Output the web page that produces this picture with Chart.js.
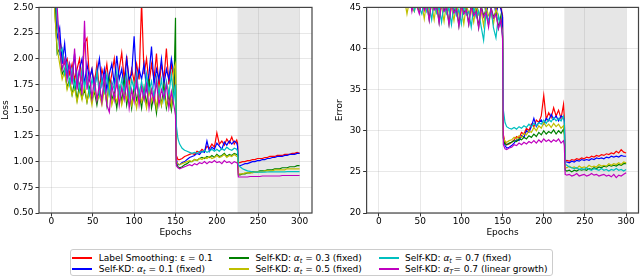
<!DOCTYPE html>
<html>
<head>
<meta charset="utf-8">
<script src="https://cdn.jsdelivr.net/npm/chart.js@4.4.1/dist/chart.umd.min.js"></script>
<style>
  html, body { margin:0; padding:0; background:#fff; }
  body { width:640px; height:276px; position:relative; overflow:hidden; font-family:"DejaVu Sans", sans-serif; color:#000; }
  canvas { position:absolute; top:0; }
  #cLoss { left:0; }
  #cErr { left:320px; }
  #legend { position:absolute; left:70px; top:249px; width:483px; height:27px; box-sizing:border-box; border:1px solid #cccccc; border-radius:3px; background:#fff; font-size:9px; }
  .item { position:absolute; height:12px; white-space:nowrap; }
  .sw { position:absolute; left:0; top:5px; width:20px; height:2px; }
  .tx { position:absolute; left:26.5px; top:0; line-height:12px; }
  .tx sub { font-size:6.5px; vertical-align:-1.5px; line-height:0; }
</style>
</head>
<body>
<canvas id="cLoss" width="320" height="240"></canvas>
<canvas id="cErr" width="320" height="240"></canvas>
<div id="legend"></div>
<script>
// ---------- data ----------
const EPOCHS = [
  1,4,7,10,13,16,19,22,25,28,31,34,37,40,43,46,49,52,55,58,61,64,67,70,73,76,79,82,85,88,91,94,97,100,103,106,109,112,115,118,121,124,127,130,133,136,139,142,145,148,150,
  151,153,155,158,161,164,167,170,173,176,179,182,185,188,191,194,197,200,203,206,209,212,215,218,221,224,225,
  226,228,231,234,237,240,243,246,249,252,255,258,261,264,267,270,273,276,279,282,285,288,291,294,297,300
];
const X_TICKS = [0, 50, 100, 150, 200, 250, 300];
const LOSS_TICKS = [0.5, 0.75, 1.0, 1.25, 1.5, 1.75, 2.0, 2.25, 2.5];
const ERROR_TICKS = [20, 25, 30, 35, 40, 45];
const SHADE_RANGE = [225, 300];

const SERIES_NAMES = [
  'Label Smoothing: ε = 0.1',
  'Self-KD: αt = 0.1 (fixed)',
  'Self-KD: αt = 0.3 (fixed)',
  'Self-KD: αt = 0.5 (fixed)',
  'Self-KD: αt = 0.7 (fixed)',
  'Self-KD: αT= 0.7 (linear growth)'
];
const LEGEND_LABELS = [
  'Label Smoothing: ε = 0.1',
  'Self-KD: <i>α</i><sub><i>t</i></sub> = 0.1 (fixed)',
  'Self-KD: <i>α</i><sub><i>t</i></sub> = 0.3 (fixed)',
  'Self-KD: <i>α</i><sub><i>t</i></sub> = 0.5 (fixed)',
  'Self-KD: <i>α</i><sub><i>t</i></sub> = 0.7 (fixed)',
  'Self-KD: <i>α</i><sub><i>T</i></sub>= 0.7 (linear growth)'
];
const SERIES_COLORS = ['#ff0000', '#0000ff', '#008000', '#bfbf00', '#00bfbf', '#bf00bf'];

// Loss
const lossLS = [
  3.6,2.9,2.35,2.2,2.05,1.95,2.0,1.85,1.95,1.8,1.9,2.0,1.78,2.15,2.2,1.8,1.9,1.75,1.95,1.7,1.9,1.8,1.95,1.72,1.85,2.0,1.75,1.9,2.06,1.8,2.03,1.75,1.9,1.78,1.95,1.8,2.55,1.85,2.0,1.75,1.95,1.8,2.05,1.72,1.95,1.8,2.1,1.75,1.95,1.8,1.7,
  1.06,1.02,1.02,1.03,1.05,1.06,1.07,1.08,1.07,1.1,1.09,1.12,1.1,1.15,1.13,1.17,1.14,1.28,1.17,1.2,1.16,1.22,1.18,1.24,1.17,1.21,1.18,
  0.99,0.99,1.0,1.0,1.01,1.01,1.02,1.02,1.03,1.03,1.03,1.04,1.04,1.05,1.05,1.05,1.06,1.06,1.06,1.07,1.07,1.07,1.08,1.08,1.09,1.08
];
const lossKD01 = [
  3.4,2.6,2.2,2.3,1.95,2.15,1.85,1.95,1.8,2.05,1.75,1.9,2.0,1.75,1.95,1.8,1.9,1.7,1.85,2.0,1.75,1.9,1.7,1.85,1.95,1.75,2.03,1.8,1.9,1.72,2.0,1.8,1.85,2.22,1.75,1.9,1.8,1.95,1.7,1.85,2.12,1.75,1.9,1.8,2.0,1.75,1.9,1.8,2.0,1.85,1.75,
  1.02,0.97,0.97,0.99,1.0,1.02,1.04,1.05,1.06,1.08,1.07,1.1,1.09,1.2,1.1,1.14,1.12,1.18,1.15,1.12,1.19,1.16,1.2,1.17,1.2,1.18,1.15,
  0.96,0.96,0.97,0.98,0.98,0.99,1.0,1.0,1.01,1.01,1.02,1.02,1.03,1.03,1.04,1.04,1.05,1.05,1.05,1.06,1.06,1.07,1.07,1.07,1.08,1.08
];
const lossKD03 = [
  3.3,2.5,2.05,2.1,1.85,1.9,1.72,1.8,1.65,1.78,1.6,1.75,1.62,1.7,1.58,1.72,1.6,1.68,1.55,1.7,1.6,1.75,1.55,1.8,1.6,1.68,1.52,1.72,1.58,1.8,1.55,1.7,1.52,1.75,1.6,1.68,1.52,1.72,1.55,1.8,1.52,1.65,1.47,1.7,1.55,1.75,1.52,1.65,1.5,1.7,2.4,
  0.98,0.95,0.94,0.95,0.97,0.98,1.0,1.0,1.02,1.01,1.03,1.04,1.03,1.05,1.04,1.06,1.04,1.07,1.05,1.06,1.08,1.05,1.07,1.06,1.08,1.07,1.06,
  0.87,0.87,0.88,0.88,0.89,0.89,0.9,0.9,0.9,0.91,0.91,0.91,0.92,0.92,0.92,0.93,0.93,0.93,0.94,0.94,0.94,0.95,0.95,0.95,0.96,0.96
];
const lossKD05 = [
  3.2,2.45,2.1,1.95,1.8,1.88,1.7,1.78,1.65,1.72,1.58,1.7,1.6,1.75,1.58,1.68,1.55,1.72,1.6,1.65,1.55,1.7,1.58,1.75,1.55,1.65,1.58,1.7,1.55,1.68,1.6,1.72,1.55,1.65,1.52,1.7,1.58,1.65,1.52,1.7,1.58,1.68,1.52,1.72,1.55,1.65,1.55,1.7,1.55,1.9,1.95,
  1.0,0.98,0.97,0.98,0.99,1.0,1.01,1.0,1.02,1.01,1.03,1.02,1.04,1.03,1.05,1.03,1.04,1.06,1.04,1.05,1.07,1.04,1.06,1.05,1.07,1.05,1.05,
  0.88,0.88,0.88,0.89,0.89,0.89,0.89,0.9,0.9,0.9,0.9,0.91,0.91,0.91,0.91,0.92,0.92,0.92,0.92,0.92,0.93,0.93,0.93,0.93,0.93,0.93
];
const lossKD07 = [
  3.5,2.7,2.4,2.05,2.1,1.85,1.95,1.75,1.9,1.72,1.85,1.7,1.9,1.72,1.85,1.65,1.8,1.7,1.88,1.65,1.8,1.68,1.85,1.65,1.78,1.7,1.88,1.65,1.8,1.68,1.85,1.62,1.8,1.7,1.85,1.65,1.78,1.62,1.85,1.68,1.78,1.62,1.82,1.65,1.8,1.6,1.78,1.65,1.85,1.6,1.75,
  1.35,1.22,1.17,1.13,1.11,1.1,1.09,1.08,1.09,1.08,1.1,1.09,1.11,1.09,1.1,1.12,1.1,1.12,1.1,1.13,1.11,1.14,1.12,1.11,1.13,1.12,1.1,
  0.97,0.95,0.93,0.92,0.91,0.905,0.9,0.898,0.897,0.897,0.898,0.898,0.899,0.9,0.9,0.9,0.901,0.901,0.9,0.901,0.902,0.902,0.902,0.903,0.903,0.903
];
const lossKD07lin = [
  3.6,2.8,2.5,2.1,1.9,2.0,1.8,1.95,1.75,2.1,1.7,1.9,1.65,2.37,1.7,1.85,1.62,1.8,1.6,1.75,1.58,1.85,1.55,1.48,1.75,1.6,1.8,1.55,1.72,1.6,1.78,1.52,1.7,1.58,1.8,1.55,1.72,1.6,1.75,1.52,1.7,1.58,1.78,1.55,1.7,1.62,1.75,1.52,1.68,1.55,1.45,
  0.96,0.94,0.93,0.94,0.95,0.96,0.97,0.96,0.98,0.97,0.99,0.98,1.0,0.98,1.0,0.99,1.01,0.99,1.0,0.98,1.01,0.99,1.0,0.98,1.0,0.99,0.98,
  0.85,0.85,0.85,0.85,0.85,0.855,0.855,0.855,0.855,0.855,0.86,0.86,0.86,0.86,0.86,0.86,0.86,0.86,0.865,0.865,0.865,0.865,0.865,0.865,0.865,0.865
];

// Error
const errLS = [
  85,68,58,54,52,50.5,49.5,49,48.5,48,47.5,47.8,46.5,47.5,45.8,47.2,46.8,46,47.5,45.5,47,46.2,47.3,45.2,46.8,46,47.5,45.3,46.5,45.8,47,44.8,46.5,45.6,47,44.9,46.3,45.5,46.8,44.6,46.2,45.4,46.9,44.5,46,45.3,46.5,44.6,45.8,45,44,
  29.5,28.6,28.3,28.4,28.6,28.9,29.3,29.1,29.8,29.6,30.3,30.0,30.8,30.5,31.3,31.0,31.8,34.3,31.4,32.2,31.6,32.8,31.8,32.5,31.5,33.2,31.5,
  26.3,26.4,26.3,26.5,26.4,26.6,26.5,26.7,26.6,26.8,26.7,26.9,26.8,27.0,26.9,27.1,27.0,27.2,27.1,27.3,27.2,27.5,27.3,27.7,27.4,27.3
];
const errKD01 = [
  84,67,57,53.5,51.5,50,49.2,48.5,48,47.6,47,47.5,46.2,47.2,45.5,46.8,46.5,45.7,47,45.1,46.6,45.9,47,44.9,46.5,45.6,47.1,44.8,46.2,45.4,46.7,44.5,46.2,45.2,46.6,44.4,46,45,46.5,44.2,45.8,45,46.5,44,45.7,44.9,46.2,44.1,45.5,44.8,43.8,
  29.2,28.2,27.9,28.0,28.2,28.5,28.9,28.8,29.4,29.2,30.0,29.8,30.5,31.5,30.5,31.0,31.3,30.8,31.5,31.2,32.0,31.4,31.8,31.2,31.8,31.6,31.2,
  26.2,26.2,26.1,26.3,26.2,26.4,26.3,26.5,26.4,26.5,26.4,26.6,26.5,26.7,26.6,26.7,26.6,26.8,26.7,26.9,26.8,26.9,26.8,27.0,26.9,26.9
];
const errKD03 = [
  83,66,56,52.5,50.5,49,48,47.5,47,46.5,46.2,45.5,46.5,44.8,46,45.3,44.5,46.2,44.9,45.6,43.5,46,44.8,45.5,43.2,45.8,44.6,45.3,43,45.7,44.5,45.2,42.8,45.5,44.3,45,43,45.4,44.2,44.8,42.6,45.2,44,44.7,42.9,45,43.8,44.5,42.5,44,41.5,
  29.0,28.4,28.3,28.5,28.6,28.8,28.7,29.0,28.9,29.2,29.0,29.4,29.2,29.6,29.3,29.8,29.5,30.0,29.6,29.9,29.7,30.1,29.6,30.0,29.7,30.2,29.5,
  25.2,25.1,25.2,25.0,25.2,25.1,25.3,25.2,25.3,25.2,25.4,25.3,25.5,25.4,25.6,25.5,25.7,25.6,25.8,25.7,25.8,25.7,25.9,25.8,26.0,26.0
];
const errKD05 = [
  82,65,55,52,50,48.5,47.5,47,46.2,45.5,46,44.2,45.8,45,44.5,46,44.7,45.5,43.6,45.8,44.6,45.3,43.5,45.7,44.4,45.1,43.3,45.6,44.5,45,43.4,45.5,44.2,44.9,43,45.3,44.3,44.8,43.2,45.2,44.1,44.6,42.8,45,44,44.5,43,44.8,43.9,43,42,
  29.2,28.7,28.6,28.8,28.9,29.2,29.0,29.4,29.2,29.7,29.5,30.0,29.8,30.4,30.0,30.6,30.3,31.0,30.5,30.8,30.4,30.9,30.5,30.8,30.3,30.6,30.0,
  25.6,25.5,25.7,25.5,25.6,25.4,25.7,25.5,25.6,25.5,25.8,25.6,25.7,25.6,25.9,25.7,25.8,25.7,26.0,25.8,26.0,25.9,26.1,25.9,26.2,26.1
];
const errKD07 = [
  84,67,57,53,51,49.5,48.5,48,47.2,46.8,46.5,46,45.2,46.3,44.6,45.8,45,44.2,46,44.5,45.3,43.5,45.8,44.3,45.1,43.2,45.6,44.2,45,42.9,45.4,44,44.8,43,45.3,44.1,44.5,42.6,45.1,43.8,44.6,42.7,41,44.4,43.3,44.8,42.5,41.3,44,42.8,41.8,
  32.5,31.0,30.5,30.3,30.2,30.4,30.2,30.5,30.3,30.6,30.4,30.8,30.5,30.9,30.6,31.0,30.8,31.3,30.9,31.4,31.1,31.6,31.2,31.5,31.2,31.8,31.0,
  26.0,25.8,25.6,25.5,25.4,25.5,25.3,25.4,25.3,25.5,25.3,25.2,25.4,25.3,25.2,25.4,25.2,25.3,25.1,25.3,25.2,25.4,25.2,25.3,25.1,25.3
];
const errKD07lin = [
  85,68,58,53.5,51.5,49.8,48.7,48,47.3,46.8,46.2,45.5,46.6,44.5,46,45.1,44.2,46,44.6,45.4,43.4,45.9,44.7,45.2,43.1,45.7,44.5,45,42.9,45.5,44.3,44.8,42.7,45.3,44.2,44.7,42.9,45.2,44,44.5,42.5,45,43.8,44.4,42.6,44.9,43.7,44.2,42.4,43.5,41.2,
  28.3,27.8,27.7,27.9,28.0,28.3,28.2,28.5,28.3,28.6,28.4,28.7,28.5,28.8,28.5,28.9,28.6,29.0,28.7,28.9,28.6,28.9,28.7,29.0,28.5,28.8,28.2,
  24.7,24.6,24.7,24.5,24.6,24.8,24.5,24.6,24.7,24.5,24.6,24.8,24.6,24.7,24.5,24.6,24.7,24.5,24.6,24.4,24.7,24.3,24.6,24.5,24.7,24.9
];

// ---------- drawing ----------
Chart.defaults.font.family = "'DejaVu Sans', sans-serif";
Chart.defaults.font.size = 9;
Chart.defaults.color = '#000';

const GRID = 'rgba(150,150,150,0.22)';

const shadePlugin = {
  id: 'shade',
  beforeDraw(chart) {
    const {ctx, chartArea: a, scales: {x}} = chart;
    const x0 = x.getPixelForValue(SHADE_RANGE[0]);
    const x1 = x.getPixelForValue(SHADE_RANGE[1]);
    ctx.save();
    ctx.fillStyle = '#e6e6e6';
    ctx.fillRect(x0, a.top, x1 - x0, a.bottom - a.top);
    ctx.restore();
  }
};
const framePlugin = {
  id: 'frame',
  afterDatasetsDraw(chart) {
    const {ctx, chartArea: a} = chart;
    ctx.save();
    ctx.strokeStyle = '#444';
    ctx.lineWidth = 1.2;
    ctx.strokeRect(a.left, a.top, a.right - a.left, a.bottom - a.top);
    ctx.restore();
  }
};

function buildChart(id, series, cfg) {
  const datasets = series.map((vals, i) => ({
    label: SERIES_NAMES[i],
    data: EPOCHS.map((e, j) => ({x: e, y: vals[j]})),
    borderColor: SERIES_COLORS[i],
    backgroundColor: SERIES_COLORS[i],
    borderWidth: 1.2,
    pointRadius: 0,
    fill: false,
    tension: 0,
    order: series.length - 1 - i
  }));
  return new Chart(document.getElementById(id), {
    type: 'line',
    data: {datasets},
    options: {
      responsive: false,
      animation: false,
      devicePixelRatio: 1,
      events: [],
      layout: {padding: {top: 3, right: cfg.rightPad, left: 0, bottom: 0}},
      plugins: {legend: {display: false}, tooltip: {enabled: false}},
      scales: {
        x: {
          type: 'linear', min: -15, max: 315,
          afterBuildTicks: s => { s.ticks = X_TICKS.map(v => ({value: v})); },
          afterFit: s => { s.height = 27; },
          border: {display: false},
          grid: {color: GRID, lineWidth: 1, tickColor: '#333', tickLength: 3.5, tickWidth: 1},
          ticks: {color: '#000', font: {size: 9}, padding: 0, maxRotation: 0, autoSkip: false},
          title: {display: true, text: 'Epochs', color: '#000', font: {size: 9}, padding: {top: 0, bottom: 1.6}}
        },
        y: {
          type: 'linear', min: cfg.min, max: cfg.max,
          afterBuildTicks: s => { s.ticks = cfg.ticks.map(v => ({value: v})); },
          afterFit: s => { s.width = cfg.axisWidth; },
          border: {display: false},
          grid: {color: GRID, lineWidth: 1, tickColor: '#333', tickLength: 3.5, tickWidth: 1},
          ticks: {color: '#000', font: {size: 9}, padding: 2, autoSkip: false,
                  callback: v => Number(v).toFixed(cfg.decimals)},
          title: {display: true, text: cfg.title, color: '#000', font: {size: 9}, padding: {top: cfg.titlePad, bottom: 0}}
        }
      }
    },
    plugins: [shadePlugin, framePlugin]
  });
}

buildChart('cLoss', [lossLS, lossKD01, lossKD03, lossKD05, lossKD07, lossKD07lin],
  {min: 0.5, max: 2.5, ticks: LOSS_TICKS, decimals: 2, title: 'Loss', axisWidth: 39, titlePad: 0, rightPad: 8});
buildChart('cErr', [errLS, errKD01, errKD03, errKD05, errKD07, errKD07lin],
  {min: 20, max: 45, ticks: ERROR_TICKS, decimals: 0, title: 'Error', axisWidth: 46.6, titlePad: 14.6, rightPad: 1.5});

// ---------- legend ----------
const COL_X = [1.2, 157.9, 307.5];
const ROW_Y = [1.5, 13];
const legend = document.getElementById('legend');
LEGEND_LABELS.forEach((html, i) => {
  const item = document.createElement('div');
  item.className = 'item';
  item.style.left = COL_X[Math.floor(i / 2)] + 'px';
  item.style.top = ROW_Y[i % 2] + 'px';
  const sw = document.createElement('div');
  sw.className = 'sw';
  sw.style.background = SERIES_COLORS[i];
  const tx = document.createElement('span');
  tx.className = 'tx';
  tx.innerHTML = html;
  item.appendChild(sw);
  item.appendChild(tx);
  legend.appendChild(item);
});
</script>
</body>
</html>
